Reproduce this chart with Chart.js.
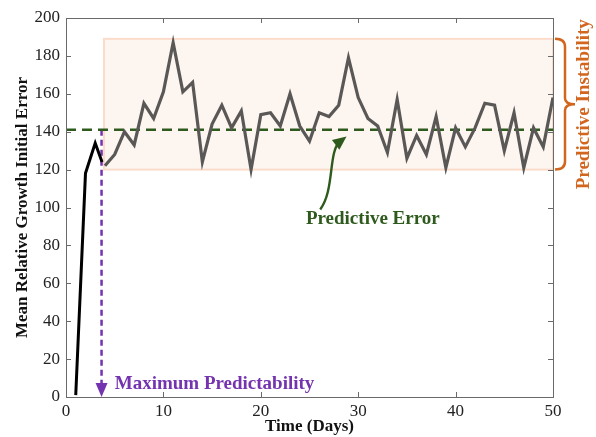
<!DOCTYPE html>
<html>
<head>
<meta charset="utf-8">
<script src="https://cdn.jsdelivr.net/npm/chart.js@4.4.0/dist/chart.umd.min.js"></script>
<style>
  html, body { margin: 0; padding: 0; background: #fff; }
  #wrap { width: 596px; height: 437px; }
</style>
</head>
<body>
<div id="wrap"><canvas id="chart" width="596" height="437"></canvas></div>
<script>
// values
const earlyDays = [1, 2, 3, 3.7];
const earlyError = [1, 118, 134, 124];

const days = [4, 5, 6, 7, 8, 9, 10, 11, 12, 13, 14, 15, 16, 17, 18, 19, 20, 21, 22, 23, 24, 25, 26, 27,
  28, 29, 30, 31, 32, 33, 34, 35, 36, 37, 38, 39, 40, 41, 42, 43, 44, 45, 46, 47, 48, 49, 50];
const growthError = [122, 128, 140, 133, 155, 147, 161, 187, 161, 166, 124, 144, 154, 142, 151, 120, 149, 150, 143, 160, 143, 135, 150, 148,
  154, 179, 158, 147, 143, 129, 157, 126, 138, 128, 148, 121, 142, 132, 142, 155, 154, 130, 150, 121, 142, 132, 158];

const xTicks = [0, 10, 20, 30, 40, 50];
const yTicks = [0, 20, 40, 60, 80, 100, 120, 140, 160, 180, 200];

const predictiveError = 141;
const instabilityBand = [120, 189];
const maxPredictabilityDay = 3.65;

const serif = '"Liberation Serif", "DejaVu Serif", serif';
const green = '#2f5a1e';
const purple = '#7434b0';
const orange = '#d2661f';

function pts(xs, ys) {
  return xs.map((x, i) => ({ x: x, y: ys[i] }));
}

const annotations = {
  id: 'annotations',
  beforeDatasetsDraw(chart) {
    const { ctx, scales: { x, y } } = chart;
    // instability band
    const left = x.getPixelForValue(days[0] - 0.1);
    const right = x.getPixelForValue(50);
    const top = y.getPixelForValue(instabilityBand[1]);
    const bottom = y.getPixelForValue(instabilityBand[0]);
    ctx.save();
    ctx.fillStyle = '#fdf5f0';
    ctx.fillRect(left, top, right - left, bottom - top);
    ctx.strokeStyle = '#fbdccb';
    ctx.lineWidth = 2;
    ctx.strokeRect(left, top, right - left, bottom - top);
    ctx.restore();
  },
  afterDraw(chart) {
    const { ctx, chartArea: a, scales: { x, y } } = chart;
    ctx.save();

    // frame and inward ticks on all four sides
    ctx.strokeStyle = '#6a6a6a';
    ctx.lineWidth = 1;
    ctx.strokeRect(a.left + 0.5, a.top + 0.5, a.right - a.left, a.bottom - a.top);
    ctx.beginPath();
    xTicks.forEach(v => {
      const px = Math.round(x.getPixelForValue(v)) + 0.5;
      ctx.moveTo(px, a.bottom); ctx.lineTo(px, a.bottom - 5);
      ctx.moveTo(px, a.top); ctx.lineTo(px, a.top + 5);
    });
    yTicks.forEach(v => {
      const py = Math.round(y.getPixelForValue(v)) + 0.5;
      ctx.moveTo(a.left, py); ctx.lineTo(a.left + 5, py);
      ctx.moveTo(a.right, py); ctx.lineTo(a.right - 5, py);
    });
    ctx.stroke();

    // maximum predictability arrow head
    const ax = x.getPixelForValue(maxPredictabilityDay);
    const ab = y.getPixelForValue(0);
    ctx.fillStyle = purple;
    ctx.beginPath();
    ctx.moveTo(ax, ab);
    ctx.lineTo(ax - 6, ab - 14);
    ctx.lineTo(ax + 6, ab - 14);
    ctx.closePath();
    ctx.fill();

    ctx.font = 'bold 19px ' + serif;
    ctx.textBaseline = 'middle';
    ctx.textAlign = 'left';
    ctx.fillText('Maximum Predictability', x.getPixelForValue(5), y.getPixelForValue(7));

    // predictive error label and curved arrow
    ctx.fillStyle = green;
    ctx.textAlign = 'center';
    ctx.fillText('Predictive Error', x.getPixelForValue(31.5), y.getPixelForValue(94));
    const p0x = x.getPixelForValue(26.1), p0y = y.getPixelForValue(99);
    const c1x = x.getPixelForValue(27.6), c1y = y.getPixelForValue(109);
    const c2x = x.getPixelForValue(26.9), c2y = y.getPixelForValue(130);
    const ex = x.getPixelForValue(28.8), ey = y.getPixelForValue(137.5);
    const ang = Math.atan2(ey - c2y, ex - c2x);
    ctx.strokeStyle = green;
    ctx.lineWidth = 2.4;
    ctx.beginPath();
    ctx.moveTo(p0x, p0y);
    ctx.bezierCurveTo(c1x, c1y, c2x, c2y, ex - 8 * Math.cos(ang), ey - 8 * Math.sin(ang));
    ctx.stroke();
    ctx.beginPath();
    ctx.moveTo(ex, ey);
    ctx.lineTo(ex - 15 * Math.cos(ang - 0.42), ey - 15 * Math.sin(ang - 0.42));
    ctx.lineTo(ex - 15 * Math.cos(ang + 0.42), ey - 15 * Math.sin(ang + 0.42));
    ctx.closePath();
    ctx.fill();

    // predictive instability brace
    const bt = y.getPixelForValue(instabilityBand[1]);
    const bb = y.getPixelForValue(instabilityBand[0]);
    const bm = (bt + bb) / 2;
    const b0 = a.right + 2, b1 = a.right + 12, b2 = a.right + 22;
    ctx.strokeStyle = orange;
    ctx.lineWidth = 2.5;
    ctx.beginPath();
    ctx.moveTo(b0, bt);
    ctx.quadraticCurveTo(b1, bt, b1, bt + 8);
    ctx.lineTo(b1, bm - 6);
    ctx.quadraticCurveTo(b1, bm, b2, bm);
    ctx.quadraticCurveTo(b1, bm, b1, bm + 6);
    ctx.lineTo(b1, bb - 8);
    ctx.quadraticCurveTo(b1, bb, b0, bb);
    ctx.stroke();

    ctx.fillStyle = orange;
    ctx.translate(a.right + 31, bm);
    ctx.rotate(-Math.PI / 2);
    ctx.textAlign = 'center';
    ctx.fillText('Predictive Instability', 0, 0);
    ctx.restore();
  }
};

new Chart(document.getElementById('chart'), {
  type: 'scatter',
  data: {
    datasets: [
      {
        data: pts(earlyDays, earlyError),
        showLine: true, borderColor: '#000', borderWidth: 3, pointRadius: 0, tension: 0
      },
      {
        data: pts(days, growthError),
        showLine: true, borderColor: '#5a5856', borderWidth: 3.2, pointRadius: 0, tension: 0
      },
      {
        data: pts([0, 50], [predictiveError, predictiveError]),
        showLine: true, borderColor: green, borderWidth: 2.5, borderDash: [10, 6], pointRadius: 0
      },
      {
        data: pts([maxPredictabilityDay, maxPredictabilityDay], [predictiveError, 6]),
        showLine: true, borderColor: purple, borderWidth: 2.5, borderDash: [6, 4], pointRadius: 0
      }
    ]
  },
  options: {
    responsive: false,
    animation: false,
    devicePixelRatio: 1,
    layout: { padding: { top: 18, right: 43, bottom: 0, left: 0 } },
    plugins: { legend: { display: false }, tooltip: { enabled: false } },
    scales: {
      x: {
        type: 'linear', min: 0, max: 50,
        afterFit: s => { s.height = 40; },
        afterBuildTicks: s => { s.ticks = xTicks.map(v => ({ value: v })); },
        grid: { display: false, drawTicks: false },
        border: { display: false },
        ticks: { color: '#222', padding: 4, font: { family: serif, size: 17 } },
        title: {
          display: true, text: 'Time (Days)', color: '#111',
          font: { family: serif, size: 17, weight: 'bold' }, padding: { top: 0, bottom: 0 }
        }
      },
      y: {
        type: 'linear', min: 0, max: 200,
        afterFit: s => { s.width = 66; },
        afterBuildTicks: s => { s.ticks = yTicks.map(v => ({ value: v })); },
        grid: { display: false, drawTicks: false },
        border: { display: false },
        ticks: { color: '#222', padding: 6, font: { family: serif, size: 17 } },
        title: {
          display: true, text: 'Mean Relative Growth Initial Error', color: '#111',
          font: { family: serif, size: 17, weight: 'bold' }, padding: { top: 12, bottom: 0 }
        }
      }
    }
  },
  plugins: [annotations]
});
</script>
</body>
</html>
